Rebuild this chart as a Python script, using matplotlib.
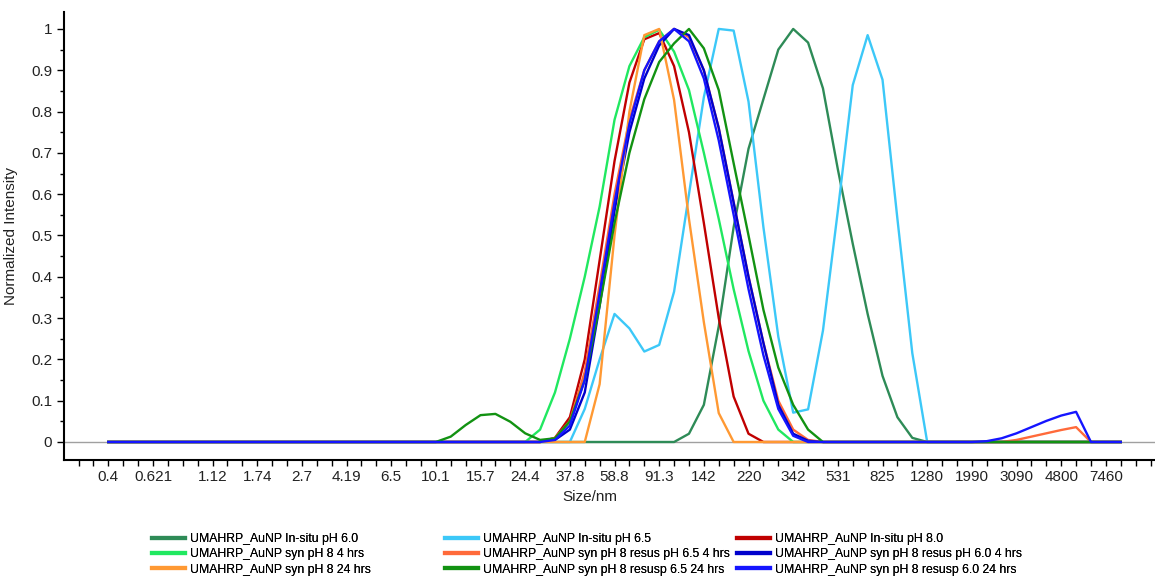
import matplotlib
matplotlib.use("Agg")
import matplotlib.pyplot as plt
import numpy as np

plt.rcParams['font.family'] = ['Liberation Sans', 'DejaVu Sans']

# size bins are plotted by bin index (log-spaced DLS bins 0.4 .. ~8600 nm)
n_bins = 69
tick_bins = [0, 3, 7, 10, 13, 16, 19, 22, 25, 28, 31, 34, 37, 40, 43, 46, 49, 52, 55, 58, 61, 64, 67]
tick_labels = ['0.4', '0.621', '1.12', '1.74', '2.7', '4.19', '6.5', '10.1', '15.7', '24.4', '37.8',
               '58.8', '91.3', '142', '220', '342', '531', '825', '1280', '1990', '3090', '4800', '7460']

# non-zero stretches of each distribution: (first bin, values)
insitu_60 = (38, [0, 0.02, 0.09, 0.28, 0.52, 0.71, 0.83, 0.95, 1.0, 0.967, 0.856, 0.66, 0.48,
                  0.31, 0.16, 0.06, 0.01, 0])
insitu_65 = (31, [0, 0.08, 0.20, 0.31, 0.275, 0.219, 0.235, 0.364, 0.60, 0.835, 1.0, 0.996, 0.824,
                  0.52, 0.255, 0.071, 0.079, 0.27, 0.56, 0.864, 0.985, 0.877, 0.54, 0.215, 0])
insitu_80 = (29, [0, 0.01, 0.06, 0.20, 0.44, 0.68, 0.87, 0.975, 0.99, 0.91, 0.75, 0.53, 0.30,
                  0.11, 0.02, 0])
syn_4h = (27, [0, 0, 0.03, 0.12, 0.25, 0.40, 0.57, 0.78, 0.91, 0.98, 0.998, 0.945, 0.852, 0.70,
               0.54, 0.37, 0.22, 0.10, 0.03, 0])
resus65_4h = (29, [0, 0.01, 0.05, 0.17, 0.38, 0.60, 0.78, 0.90, 0.97, 1.0, 0.98, 0.90, 0.76,
                   0.58, 0.40, 0.24, 0.10, 0.03, 0.005, 0])
resus65_4h_b = (60, [0, 0.005, 0.013, 0.021, 0.029, 0.036, 0])
resus60_4h = (29, [0, 0.005, 0.03, 0.12, 0.33, 0.56, 0.75, 0.88, 0.96, 1.0, 0.985, 0.90, 0.76,
                   0.58, 0.40, 0.24, 0.09, 0.02, 0.003, 0])
syn_24h = (32, [0, 0.14, 0.50, 0.80, 0.985, 1.0, 0.828, 0.54, 0.29, 0.07, 0])
resusp65_24h = (22, [0, 0.013, 0.041, 0.065, 0.068, 0.049, 0.021, 0.005, 0.009, 0.05, 0.15, 0.33,
                     0.53, 0.70, 0.83, 0.92, 0.965, 1.0, 0.953, 0.852, 0.675, 0.50, 0.32, 0.18,
                     0.09, 0.03, 0])
resusp60_24h = (29, [0, 0.005, 0.04, 0.15, 0.36, 0.58, 0.77, 0.90, 0.97, 1.0, 0.97, 0.88, 0.73,
                     0.55, 0.37, 0.21, 0.08, 0.015, 0])
resusp60_24h_b = (58, [0, 0.002, 0.009, 0.021, 0.036, 0.051, 0.064, 0.073, 0])


def full(*parts):
    arr = np.zeros(n_bins)
    for start, vals in parts:
        arr[start:start + len(vals)] = vals
    return arr


series = [
    ('UMAHRP_AuNP In-situ pH 6.0', '#2e8b57', full(insitu_60)),
    ('UMAHRP_AuNP In-situ pH 6.5', '#3cc8f8', full(insitu_65)),
    ('UMAHRP_AuNP In-situ pH 8.0', '#c00000', full(insitu_80)),
    ('UMAHRP_AuNP syn pH 8 4 hrs', '#20e860', full(syn_4h)),
    ('UMAHRP_AuNP syn pH 8 resus pH 6.5 4 hrs', '#ff6a3a', full(resus65_4h, resus65_4h_b)),
    ('UMAHRP_AuNP syn pH 8 resus pH 6.0 4 hrs', '#0000cc', full(resus60_4h)),
    ('UMAHRP_AuNP syn pH 8 24 hrs', '#ff9933', full(syn_24h)),
    ('UMAHRP_AuNP syn pH 8 resusp 6.5 24 hrs', '#129212', full(resusp65_24h)),
    ('UMAHRP_AuNP syn pH 8 resusp 6.0 24 hrs', '#1515ff', full(resusp60_24h, resusp60_24h_b)),
]

W, H = 1155, 576
fig = plt.figure(figsize=(W / 100, H / 100), dpi=100)
ax = fig.add_axes([64 / W, 1 - 460 / H, (W - 64) / W, (460 - 12) / H])

ax.axhline(0, color='#a0a0a0', lw=1, zorder=1)
x = np.arange(n_bins)
handles = []
for name, color, y in series:
    h, = ax.plot(x, y, color=color, lw=1.7, label=name, zorder=2)
    handles.append(h)

ax.set_xlim(-2.975, 70.3)
ax.set_ylim(-0.0436, 1.041)

ax.set_xticks(tick_bins)
ax.set_xticklabels(tick_labels)
ax.set_xticks(np.arange(-2, 71), minor=True)
ax.set_yticks(np.arange(0, 1.01, 0.1))
ax.set_yticklabels(['0', '0.1', '0.2', '0.3', '0.4', '0.5', '0.6', '0.7', '0.8', '0.9', '1'])
ax.set_yticks(np.arange(0.05, 1.0, 0.1), minor=True)
ax.tick_params(which='both', direction='out', width=1, labelsize=11, labelcolor='#222222')
ax.tick_params(axis='x', which='both', length=4, pad=3)
ax.tick_params(axis='y', which='major', length=5)
ax.tick_params(axis='y', which='minor', length=3)

for s in ['top', 'right']:
    ax.spines[s].set_visible(False)
for s in ['left', 'bottom']:
    ax.spines[s].set_linewidth(1.5)

ax.set_xlabel('Size/nm', fontsize=11, color='#222222')
ax.xaxis.set_label_coords(0.482, -0.068)
ax.set_ylabel('Normalized Intensity', fontsize=11, color='#222222')
ax.yaxis.set_label_coords(-0.042, 0.5)

# three legend columns with fixed spacing
col_x = [152, 445, 737]
for i in range(3):
    leg = fig.legend(handles=[handles[i], handles[i + 3], handles[i + 6]],
                     loc='upper left', bbox_to_anchor=(col_x[i] / W, 1 - 533 / H),
                     bbox_transform=fig.transFigure, frameon=False, fontsize=8.8,
                     borderpad=0, borderaxespad=0, handlelength=2.7, handletextpad=0.4,
                     labelspacing=0.27)
    for line in leg.get_lines():
        line.set_linewidth(3)
    fig.add_artist(leg)

fig.savefig('out.png', dpi=100)
